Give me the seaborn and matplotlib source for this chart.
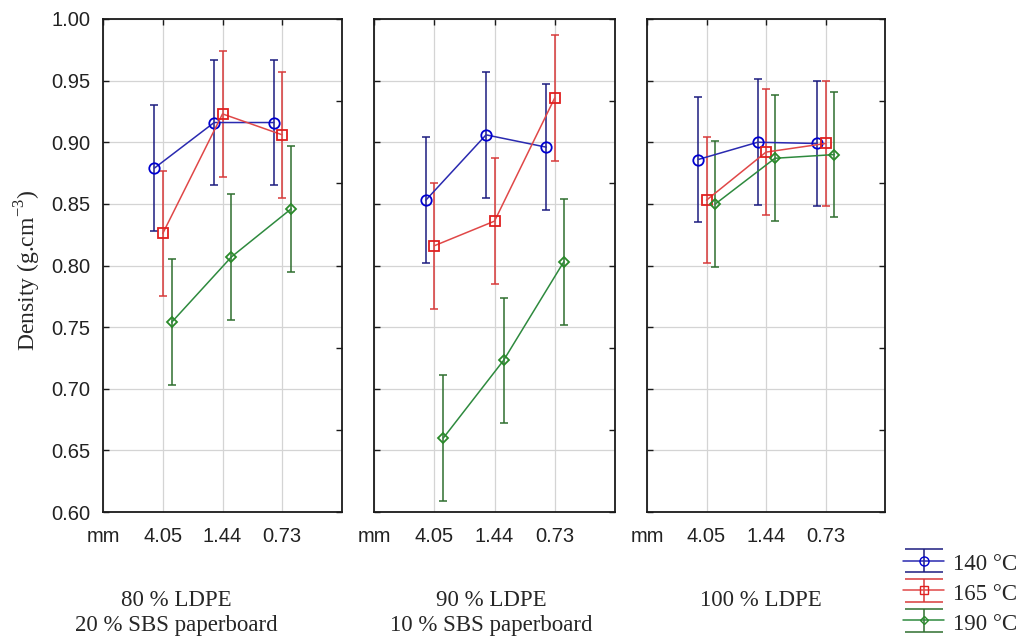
import numpy as np
import pandas as pd
import seaborn as sns
import matplotlib
matplotlib.use("Agg")
import matplotlib.pyplot as plt

# ---------------- data ----------------
thickness = ["4.05", "1.44", "0.73"]
temps = ["140 °C", "165 °C", "190 °C"]
panel_titles = ["80 % LDPE\n20 % SBS paperboard",
                "90 % LDPE\n10 % SBS paperboard",
                "100 % LDPE"]

# density per temperature (rows) and particle size (columns)
dens_80 = [[0.879, 0.916, 0.916],
           [0.826, 0.923, 0.906],
           [0.754, 0.807, 0.846]]
dens_90 = [[0.853, 0.906, 0.896],
           [0.816, 0.836, 0.936],
           [0.660, 0.723, 0.803]]
dens_100 = [[0.886, 0.900, 0.899],
            [0.853, 0.892, 0.899],
            [0.850, 0.887, 0.890]]
# half-width of the error bars
err_80 = [[0.051, 0.051, 0.051], [0.051, 0.051, 0.051], [0.051, 0.051, 0.051]]
err_90 = [[0.051, 0.051, 0.051], [0.051, 0.051, 0.051], [0.051, 0.051, 0.051]]
err_100 = [[0.051, 0.051, 0.051], [0.051, 0.051, 0.051], [0.051, 0.051, 0.051]]

yticks = [0.60, 0.65, 0.70, 0.75, 0.80, 0.85, 0.90, 0.95, 1.00]

# ---------------- styling ----------------
sns.set_style("white")
plt.rcParams["font.family"] = ["Liberation Sans", "DejaVu Sans"]
plt.rcParams["mathtext.fontset"] = "custom"
plt.rcParams["mathtext.rm"] = "Liberation Serif"
serif = ["Liberation Serif", "DejaVu Serif"]

line_cols = ["#2a2ab0", "#e04848", "#2e8a3e"]
mark_cols = ["#0000d0", "#e02020", "#2a8a2a"]
err_cols = ["#1c1c80", "#d83a3a", "#2f6f2f"]
markers = ["o", "s", "D"]
msizes = [7.5, 7, 5]
offsets = [-0.14, 0.0, 0.15]

fig = plt.figure(figsize=(10.19, 6.39), dpi=100)
lefts = [103, 374, 647]
rights = [342, 615, 885]
title_cx = [176, 491, 761]
top_px, bot_px = 19, 512
W, H = 1019, 639

datasets = [(dens_80, err_80), (dens_90, err_90), (dens_100, err_100)]
axes = []
for p, (dens, errs) in enumerate(datasets):
    ax = fig.add_axes([lefts[p] / W, 1 - bot_px / H,
                       (rights[p] - lefts[p]) / W, (bot_px - top_px) / H])
    axes.append(ax)
    for t in range(3):
        xpos = np.arange(1, 4) + offsets[t]
        df = pd.DataFrame({"x": xpos, "density": dens[t]})
        ax.errorbar(xpos, dens[t], yerr=errs[t], fmt="none",
                    ecolor=err_cols[t], elinewidth=1.1, capsize=3,
                    capthick=1.1, zorder=3)
        sns.lineplot(data=df, x="x", y="density", ax=ax, color=line_cols[t],
                     linewidth=1.1, marker=markers[t], markersize=msizes[t],
                     markerfacecolor="none", markeredgecolor=mark_cols[t],
                     markeredgewidth=1.3, zorder=4, legend=False)
    ax.set_xlim(0, 4)
    ax.set_ylim(0.60, 1.00)
    ax.set_xticks([0, 1, 2, 3])
    ax.set_xticklabels(["mm"] + thickness)
    ax.set_yticks(yticks)
    ax.set_yticklabels([f"{v:.2f}" for v in yticks])
    ax.set_xlabel("")
    ax.set_ylabel("")
    ax.grid(True, color="#d4d4d4", linewidth=0.9)
    ax.set_axisbelow(True)
    for s in ax.spines.values():
        s.set_visible(True)
        s.set_color("#1a1a1a")
        s.set_linewidth(1.3)
    ax.tick_params(axis="both", direction="in", length=4, width=1,
                   color="#1a1a1a", labelsize=14.5, labelcolor="#222222")
    ax.tick_params(axis="x", top=True, pad=11)
    ax.tick_params(axis="y", pad=9)
    if p > 0:
        ax.tick_params(axis="y", labelleft=False)
    # right-side ticks (6 equal divisions)
    ax2 = ax.twinx()
    ax2.set_ylim(0, 6)
    ax2.set_yticks(range(7))
    ax2.tick_params(axis="y", direction="in", length=4, width=1,
                    color="#1a1a1a", labelright=False)
    ax2.grid(False)
    for s in ax2.spines.values():
        s.set_visible(False)
    # panel title below
    fig.text(title_cx[p] / W, 1 - 590 / H, panel_titles[p], ha="center",
             va="top", fontsize=16.5, family=serif, linespacing=1.28)

fig.text(28 / W, 1 - 270 / H, "Density (g.cm$^{\\mathregular{-3}}$)",
         rotation=90, ha="center", va="center", fontsize=17, family=serif)

# legend with error-bar handles
handles = []
for t in range(3):
    h = axes[2].errorbar([np.nan], [np.nan], yerr=[0.05], fmt=markers[t] + "-",
                         color=line_cols[t], mfc="none", mec=mark_cols[t],
                         ms=msizes[t] - 1, ecolor=err_cols[t], elinewidth=1.1,
                         capsize=14, capthick=1.1, lw=1.1)
    handles.append(h)
leg = fig.legend(handles, temps, loc="center left",
                 bbox_to_anchor=(892 / W, 1 - 593 / H), frameon=False,
                 prop={"family": serif, "size": 16.5}, handlelength=1.75,
                 handleheight=1.0, labelspacing=0.3, handletextpad=0.4,
                 borderpad=0)

fig.savefig("out.png", dpi=100, facecolor="white")
